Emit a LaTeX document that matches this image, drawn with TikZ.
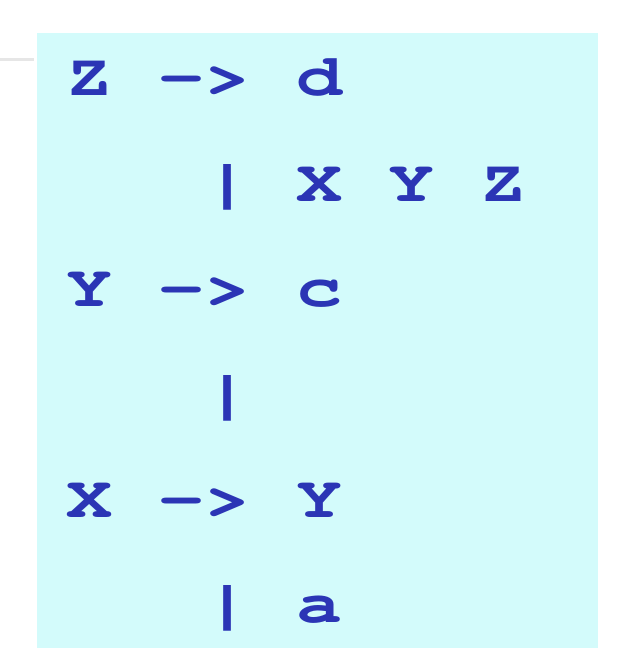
\documentclass[tikz,border=0pt]{standalone}
\usepackage{fontspec}
\newfontfamily\cfont[FakeStretch=1.3]{TeX Gyre Cursor}
\definecolor{bg}{HTML}{D3FBFB}
\definecolor{ink}{HTML}{2B35B5}
\definecolor{rule}{HTML}{E6E6E6}
\begin{document}
\begin{tikzpicture}[x=1pt,y=-1pt,
  codeline/.style={anchor=base west,inner sep=0pt,text=ink,
    font=\cfont\bfseries\fontsize{59}{59}\selectfont}]
\useasboundingbox (0,0) rectangle (620,666);
\fill[white] (0,0) rectangle (620,666);
\draw[rule,line width=3pt] (0,60) -- (34,60);
\fill[bg] (37,33) rectangle (598,648);
\node[codeline] (r1) at (66,96)  {Z~->~d};
\node[codeline] (r2) at (66,201) {~~~|~X~Y~Z};
\node[codeline] (r3) at (66,306) {Y~->~c};
\node[codeline] (r4) at (66,412) {~~~|};
\node[codeline] (r5) at (66,517) {X~->~Y};
\node[codeline] (r6) at (66,622) {~~~|~a};
\end{tikzpicture}
\end{document}
